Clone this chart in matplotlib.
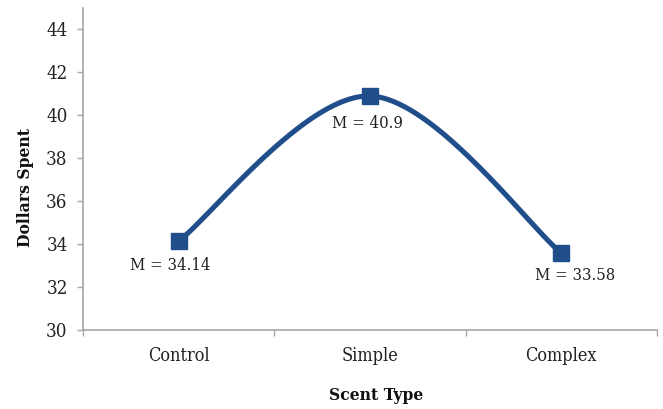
import numpy as np
import matplotlib
matplotlib.use("Agg")
import matplotlib.pyplot as plt

categories = ["Control", "Simple", "Complex"]
means = [34.14, 40.9, 33.58]
value_labels = ["M = 34.14", "M = 40.9", "M = 33.58"]
yticks = [30, 32, 34, 36, 38, 40, 42, 44]

LINE = "#1f4e8a"
AXIS = "#a6a6a6"
plt.rcParams["font.family"] = ["DejaVu Serif"]
plt.rcParams["font.stretch"] = "condensed"

fig = plt.figure(figsize=(6.63, 4.09), dpi=100)
ax = fig.add_axes([83 / 663, 79 / 409, 574 / 663, 322 / 409])

x = np.arange(len(categories), dtype=float)
y = np.array(means, dtype=float)


def smooth(px, py, n=60):
    # Catmull-Rom style cubic Bezier through each pair of points
    pts = np.column_stack([px, py])
    out = []
    for i in range(len(pts) - 1):
        p0 = pts[max(i - 1, 0)]
        p1 = pts[i]
        p2 = pts[i + 1]
        p3 = pts[min(i + 2, len(pts) - 1)]
        c1 = p1 + (p2 - p0) / 6.0
        c2 = p2 - (p3 - p1) / 6.0
        t = np.linspace(0, 1, n)[:, None]
        seg = ((1 - t) ** 3) * p1 + 3 * ((1 - t) ** 2) * t * c1 + 3 * (1 - t) * t ** 2 * c2 + t ** 3 * p2
        out.append(seg if i == 0 else seg[1:])
    curve = np.vstack(out)
    return curve[:, 0], curve[:, 1]


cx, cy = smooth(x, y)
ax.plot(cx, cy, color=LINE, lw=3.7, solid_capstyle="round", zorder=2)
ax.plot(x, y, ls="none", marker="s", ms=11, color=LINE, zorder=3)

offsets = [(-8, -24), (-3, -27), (14, -22)]
for xi, yi, lab, (dx, dy) in zip(x, y, value_labels, offsets):
    ax.annotate(lab, (xi, yi), xytext=(dx * 0.72, dy * 0.72), textcoords="offset points",
                ha="center", va="center", fontsize=12, color="#222222")

ax.set_xlim(-0.5, 2.5)
ax.set_ylim(30, 45)
ax.set_yticks(yticks)
ax.set_xticks(x)
ax.set_xticklabels(categories)
ax.set_xticks([-0.5, 0.5, 1.5, 2.5], minor=True)
ax.tick_params(axis="x", which="major", length=0, pad=12, labelsize=13, labelcolor="#222222")
ax.tick_params(axis="x", which="minor", length=4, width=1, color=AXIS, direction="out")
ax.tick_params(axis="y", length=4, width=1, color=AXIS, direction="out", pad=7,
               labelsize=13.5, labelcolor="#222222")

for side in ["top", "right"]:
    ax.spines[side].set_visible(False)
for side in ["left", "bottom"]:
    ax.spines[side].set_color(AXIS)
    ax.spines[side].set_linewidth(1.2)

ax.set_ylabel("Dollars Spent", fontsize=12.5, fontweight="bold", color="#111111",
              va="center", ha="center")
ax.yaxis.set_label_coords((25 - 83) / 574, (330 - 187) / 322)
ax.set_xlabel("Scent Type", fontsize=12.5, fontweight="bold", color="#111111",
              va="center", ha="center")
ax.xaxis.set_label_coords((376 - 83) / 574, -(395 - 330) / 322)

fig.savefig("out.png", dpi=100)
